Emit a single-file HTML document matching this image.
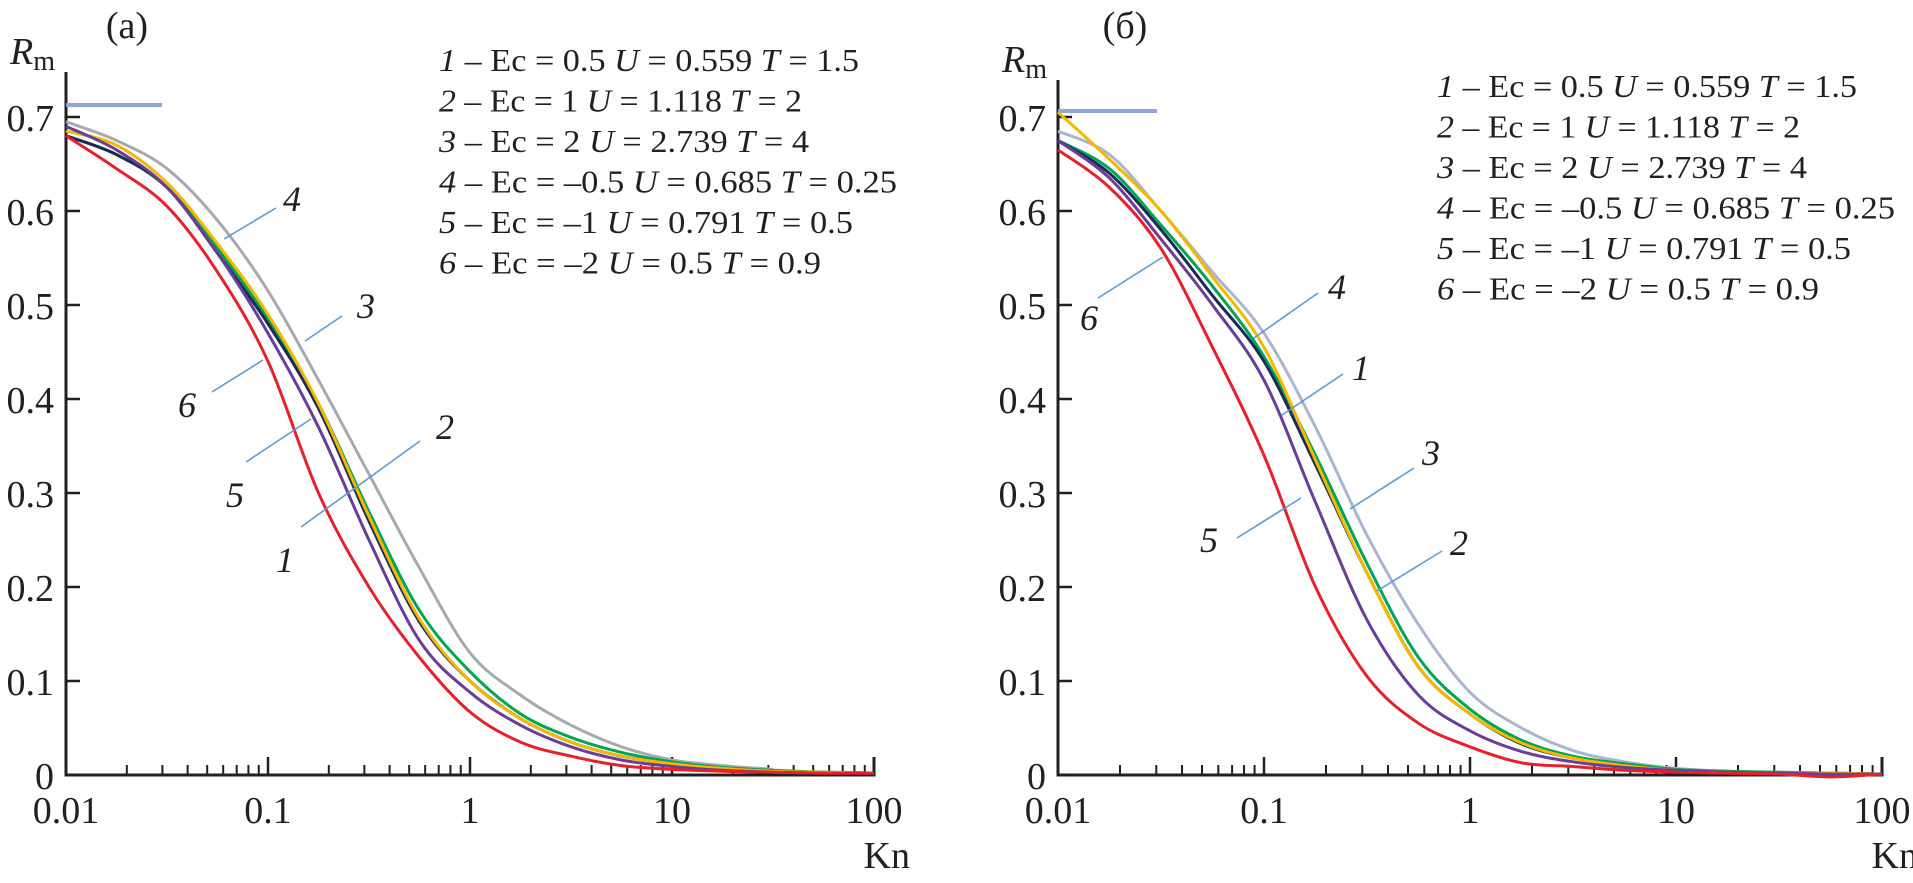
<!DOCTYPE html>
<html><head><meta charset="utf-8"><style>
html,body{margin:0;padding:0;background:#fff;}
svg{display:block;font-family:"Liberation Serif",serif;}
</style></head><body>
<svg id="chart" width="1913" height="883" viewBox="0 0 1913 883"></svg>
<script>
const kn = [-2,-1.75,-1.5,-1.25,-1,-0.75,-0.5,-0.25,0,0.25,0.5,0.75,1,1.25,1.5,1.75,2];
const aRed    = [.68,.645,.605,.535,.44,.30,.20,.125,.067,.035,.02,.01,.006,.004,.003,.002,.002];
const aPurple = [.69,.665,.625,.555,.47,.37,.25,.143,.088,.053,.03,.016,.009,.005,.003,.002,.002];
const aNavy   = [.68,.66,.625,.555,.48,.39,.27,.163,.10,.06,.035,.02,.012,.007,.004,.003,.002];
const aYellow = [.685,.67,.63,.565,.49,.395,.275,.166,.10,.06,.035,.02,.012,.007,.004,.003,.002];
const aGreen  = [.68,.66,.625,.56,.485,.395,.28,.175,.11,.065,.04,.024,.014,.008,.005,.003,.002];
const aGray   = [.695,.675,.645,.59,.515,.42,.32,.22,.13,.085,.053,.03,.016,.01,.006];
const bRed    = [.665,.625,.56,.455,.34,.20,.105,.055,.03,.013,.009,.005,.003,.002,.001,-.002,.001];
const bPurple = [.675,.635,.57,.50,.42,.29,.165,.085,.047,.025,.014,.008,.005,.003,.002,.001,.001];
const bNavy   = [.675,.64,.58,.51,.44,.33,.215,.115,.065,.033,.018,.01,.005,.003,.002,.002,.001];
const bGreen  = [.675,.645,.585,.52,.445,.34,.225,.125,.07,.037,.02,.012,.006,.004,.003,.002,.001];
const bYellow = [.705,.655,.60,.53,.455,.335,.215,.115,.065,.034,.018,.01,.005,.003,.002,.002,.001];
const bGray   = [.685,.66,.60,.535,.47,.37,.255,.16,.088,.05,.026,.014,.007,.004,.003,.002,.001];
const yTicks = [0,0.1,0.2,0.3,0.4,0.5,0.6,0.7];
const yTickLabels = ["0","0.1","0.2","0.3","0.4","0.5","0.6","0.7"];
const xDecades = [-2,-1,0,1,2];
const xTickLabels = ["0.01","0.1","1","10","100"];
const legendRows = [
 ["1"," – Ec = 0.5 ","U"," = 0.559 ","T"," = 1.5"],
 ["2"," – Ec = 1 ","U"," = 1.118 ","T"," = 2"],
 ["3"," – Ec = 2 ","U"," = 2.739 ","T"," = 4"],
 ["4"," – Ec = –0.5 ","U"," = 0.685 ","T"," = 0.25"],
 ["5"," – Ec = –1 ","U"," = 0.791 ","T"," = 0.5"],
 ["6"," – Ec = –2 ","U"," = 0.5 ","T"," = 0.9"]];
const legendWidths = [420,363,370,458,414,382];

const NS="http://www.w3.org/2000/svg";
const svg=document.getElementById('chart');
function mk(tag,attrs,parent){const e=document.createElementNS(NS,tag);for(const k in attrs)e.setAttribute(k,attrs[k]);(parent||svg).appendChild(e);return e;}
function smooth(pts){
  let d='M'+pts[0][0].toFixed(1)+' '+pts[0][1].toFixed(1);
  for(let i=0;i<pts.length-1;i++){
    const p0=pts[Math.max(0,i-1)],p1=pts[i],p2=pts[i+1],p3=pts[Math.min(pts.length-1,i+2)];
    const c1=[p1[0]+(p2[0]-p0[0])/6,p1[1]+(p2[1]-p0[1])/6],c2=[p2[0]-(p3[0]-p1[0])/6,p2[1]-(p3[1]-p1[1])/6];
    d+=` C${c1[0].toFixed(1)} ${c1[1].toFixed(1)} ${c2[0].toFixed(1)} ${c2[1].toFixed(1)} ${p2[0].toFixed(1)} ${p2[1].toFixed(1)}`;
  }
  return d;
}
function panel(p){
  const g=mk('g',{});
  
  
  const X=u=>p.x0+(u+2)*p.dec, Y=v=>775-940*v;
  const ax=mk('path',{d:`M${p.x0} ${p.top} V775 H${X(2)} v-18`,fill:'none',stroke:'#231f20','stroke-width':3},g);
  
  
  yTicks.forEach((v,i)=>{
    const t=mk('line',{x1:p.x0,x2:p.x0+14,y1:Y(v),y2:Y(v),stroke:'#231f20','stroke-width':2.5},g);
    
    
    const l=mk('text',{x:p.x0-12,y:Y(v)+14,'text-anchor':'end','font-size':38,fill:'#231f20'},g);
    l.textContent=yTickLabels[i];
    
    
  });
  for(let d=-2;d<2;d++){for(let m=2;m<=9;m++){
    const x=X(d+Math.log10(m));
    const t=mk('line',{x1:x,x2:x,y1:775,y2:765,stroke:'#231f20','stroke-width':2},g);
    
    
  }}
  xDecades.forEach((d,i)=>{
    const t=mk('line',{x1:X(d),x2:X(d),y1:775,y2:757,stroke:'#231f20','stroke-width':2.5},g);
    
    
    const l=mk('text',{x:X(d),y:823,'text-anchor':'middle','font-size':38,fill:'#231f20'},g);
    l.textContent=xTickLabels[i];
    
    
  });
  const kl=mk('text',{x:X(2)+36,y:868,'text-anchor':'end','font-size':38,fill:'#231f20'},g);
  kl.textContent='Kn';
  
  
  const rl=mk('text',{x:p.x0-56,y:p.top-8,'font-size':38,fill:'#231f20'},g);
  rl.innerHTML='<tspan font-style="italic">R</tspan><tspan font-size="28" dy="6">m</tspan>';
  
  
  const pt=mk('text',{x:p.titleX,y:38,'text-anchor':'middle','font-size':38,fill:'#231f20'},g);
  pt.textContent=p.title;
  
  
  const hl=mk('line',{x1:p.x0,x2:p.hx2,y1:p.hy,y2:p.hy,stroke:'#8fa6d8','stroke-width':4},g);
  
  
  p.series.forEach(s=>{
    const pts=s.vals.map((v,i)=>[X(kn[i]),Y(v)]);
    const pa=mk('path',{d:smooth(pts),fill:'none',stroke:s.color,'stroke-width':3,'stroke-linejoin':'round'},g);
    
    
  });
  p.leaders.forEach(L=>{
    if(L.line){const ln=mk('line',{x1:L.line[0],y1:L.line[1],x2:L.line[2],y2:L.line[3],stroke:'#5b9bd5','stroke-width':1.6},g);
      
      }
    const t=mk('text',{x:L.tx,y:L.ty,'font-size':36,'font-style':'italic',fill:'#231f20'},g);
    t.textContent=L.label;
    
    
  });
  legendRows.forEach((r,i)=>{
    const t=mk('text',{x:p.lx,y:p.ly+i*40.5,'font-size':32,fill:'#231f20',textLength:legendWidths[i],lengthAdjust:'spacingAndGlyphs'},g);
    t.innerHTML=`<tspan font-style="italic">${r[0]}</tspan>${r[1]}<tspan font-style="italic">${r[2]}</tspan>${r[3]}<tspan font-style="italic">${r[4]}</tspan>${r[5]}`;
    
    
  });
}
const cols={red:'#e8202a',purple:'#6a3d9a',navy:'#1c2a58',yellow:'#f6b700',green:'#00a651'};
panel({name:'panel-a',x0:66,dec:202,top:72,title:'(a)',titleX:127,hx2:162,hy:105,lx:439,ly:71,
 series:[{name:'curve-gray',color:'#a7a9ac',vals:aGray},{name:'curve-green',color:cols.green,vals:aGreen},{name:'curve-navy',color:cols.navy,vals:aNavy},{name:'curve-yellow',color:cols.yellow,vals:aYellow},{name:'curve-purple',color:cols.purple,vals:aPurple},{name:'curve-red',color:cols.red,vals:aRed}],
 leaders:[{label:'4',line:[224,239,276,208],tx:283,ty:211},{label:'6',line:[212,392,263,360],tx:178,ty:417},{label:'5',line:[246,462,311,419],tx:226,ty:507},
  {label:'3',line:[305,341,342,316],tx:357,ty:318},{label:'2',line:[301,527,420,441],tx:436,ty:439},{label:'1',tx:276,ty:572}]});
panel({name:'panel-b',x0:1058,dec:206,top:80,title:'(б)',titleX:1125,hx2:1157,hy:111,lx:1437,ly:97,
 series:[{name:'curve-gray',color:'#a9b6cf',vals:bGray},{name:'curve-green',color:cols.green,vals:bGreen},{name:'curve-navy',color:cols.navy,vals:bNavy},{name:'curve-yellow',color:cols.yellow,vals:bYellow},{name:'curve-purple',color:cols.purple,vals:bPurple},{name:'curve-red',color:cols.red,vals:bRed}],
 leaders:[{label:'6',line:[1098,298,1163,257],tx:1080,ty:330},{label:'5',line:[1237,538,1301,498],tx:1200,ty:552},{label:'4',line:[1254,338,1318,293],tx:1328,ty:299},
  {label:'1',line:[1282,415,1343,374],tx:1352,ty:380},{label:'3',line:[1350,509,1414,468],tx:1422,ty:465},{label:'2',line:[1377,591,1442,551],tx:1450,ty:555}]});
</script>
</body></html>
